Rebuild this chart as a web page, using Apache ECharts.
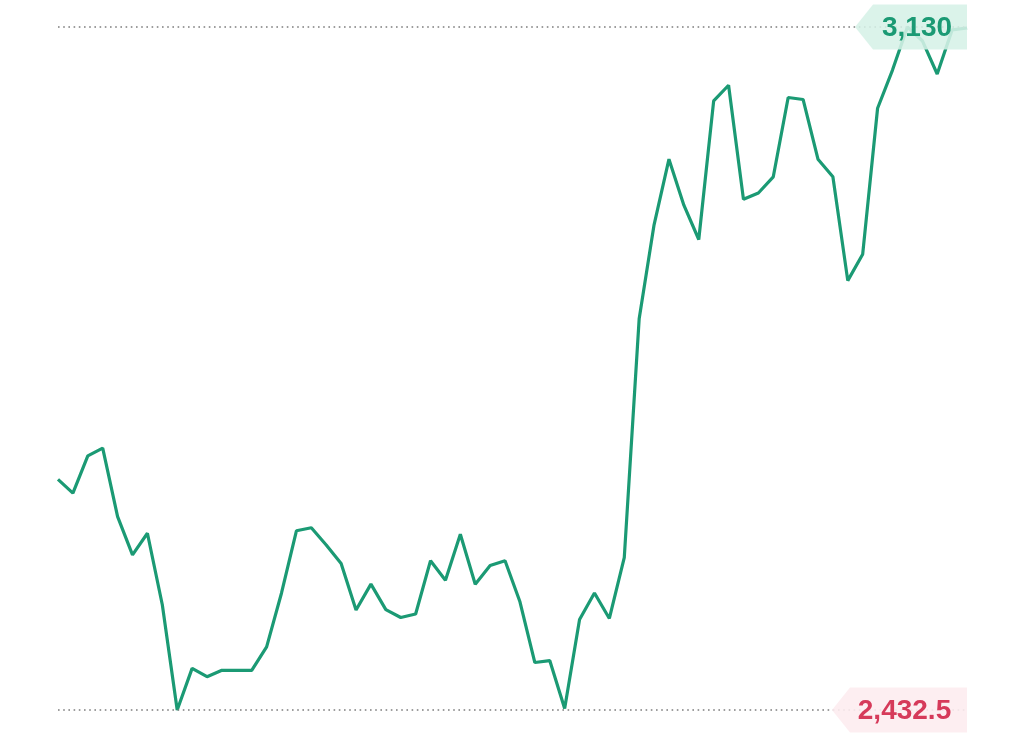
<!DOCTYPE html>
<html>
<head>
<meta charset="utf-8">
<script src="https://cdn.jsdelivr.net/npm/echarts@6/dist/echarts.min.js"></script>
<style>
  html, body { margin: 0; padding: 0; background: #fff; }
  #chart { width: 1024px; height: 739px; }
</style>
</head>
<body>
<div id="chart"></div>
<script>
// price values, one per step
const prices = [
  2668, 2654, 2692, 2700, 2630, 2591, 2613, 2540, 2432.5, 2475,
  2466.5, 2473, 2473, 2473, 2497, 2552, 2615.5, 2618.6, 2601, 2582,
  2534.6, 2561, 2535, 2527, 2530.5, 2585, 2565, 2612, 2561, 2580,
  2585, 2543, 2481, 2483, 2434, 2525, 2552, 2526, 2588, 2832,
  2928, 2995, 2948, 2913, 3054.5, 3070.5, 2954, 2960.5, 2977, 3058,
  3056, 2995, 2977, 2871, 2898, 3047, 3086, 3130, 3116, 3082,
  3127, 3129
];
const steps = prices.map((p, i) => i);
const maxValue = 3130;
const minValue = 2432.5;
const maxLabel = '3,130';
const minLabel = '2,432.5';

const green = '#1b9a74';
const red = '#d63a5a';

const chart = echarts.init(document.getElementById('chart'));
chart.setOption({
  animation: false,
  grid: { left: 58, right: 57, top: 27, bottom: 29 },
  xAxis: {
    type: 'category',
    data: steps,
    boundaryGap: false,
    show: false
  },
  yAxis: {
    type: 'value',
    min: minValue,
    max: maxValue,
    show: false
  },
  series: [{
    type: 'line',
    data: prices,
    symbol: 'none',
    lineStyle: { color: green, width: 3.2 },
    markLine: {
      silent: true,
      symbol: 'none',
      label: { show: false },
      lineStyle: { color: '#7d7d7d', width: 1.6, type: [1.6, 3.6], opacity: 1 },
      data: [{ yAxis: maxValue }, { yAxis: minValue }]
    },
    markPoint: {
      silent: true,
      data: [
        {
          coord: [prices.length - 1, maxValue],
          symbol: 'path://M0,50 L18,0 L112,0 L112,100 L18,100 Z',
          symbolSize: [112, 45],
          symbolOffset: [-56, 0],
          itemStyle: { color: 'rgba(214,241,231,0.88)' },
          label: {
            show: true, position: 'inside', offset: [6, 1],
            formatter: maxLabel, color: green,
            fontSize: 28, fontWeight: 'bold', fontFamily: 'Liberation Sans, Arial, sans-serif'
          }
        },
        {
          coord: [prices.length - 1, minValue],
          symbol: 'path://M0,50 L18,0 L135,0 L135,100 L18,100 Z',
          symbolSize: [135, 45],
          symbolOffset: [-67.5, 0],
          itemStyle: { color: 'rgba(253,236,240,0.9)' },
          label: {
            show: true, position: 'inside', offset: [5, 1],
            formatter: minLabel, color: red,
            fontSize: 28, fontWeight: 'bold', fontFamily: 'Liberation Sans, Arial, sans-serif'
          }
        }
      ]
    }
  }]
});
</script>
</body>
</html>
